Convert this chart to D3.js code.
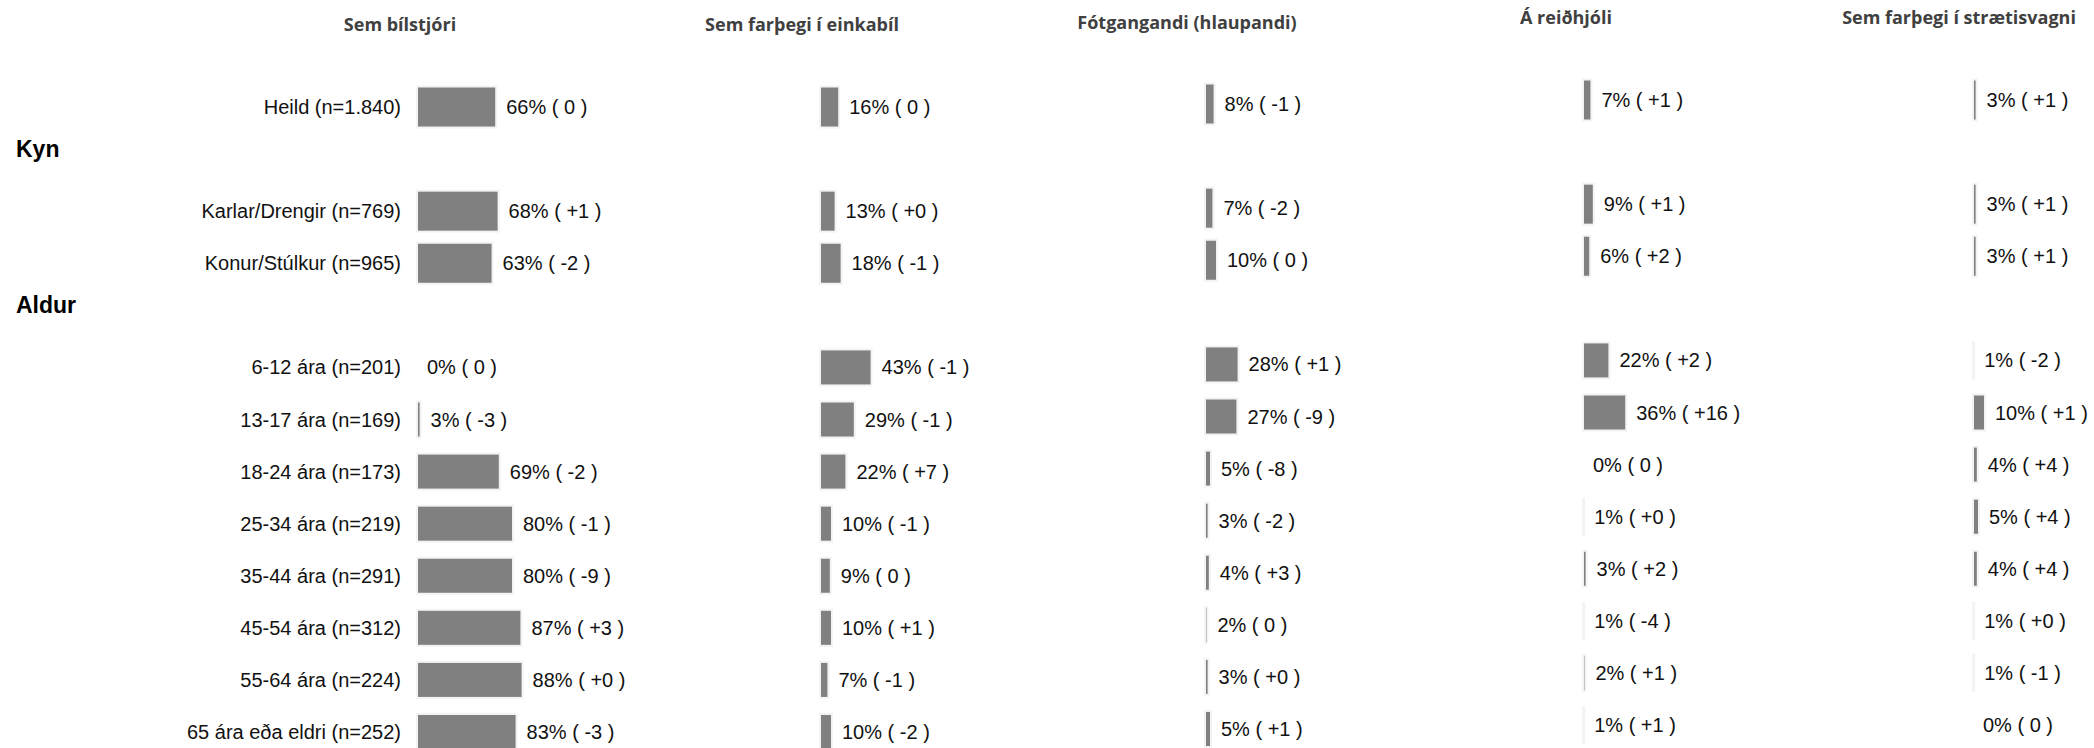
<!DOCTYPE html>
<html>
<head>
<meta charset="utf-8">
<script src="https://cdn.jsdelivr.net/npm/d3@7"></script>
<style>
  body { margin: 0; background: #fff; }
  svg { display: block; }
</style>
</head>
<body>
<svg id="chart" width="2094" height="748"></svg>
<script>
// rows (categories)
const categories = [
  "Heild (n=1.840)",
  "Karlar/Drengir (n=769)",
  "Konur/Stúlkur (n=965)",
  "6-12 ára (n=201)",
  "13-17 ára (n=169)",
  "18-24 ára (n=173)",
  "25-34 ára (n=219)",
  "35-44 ára (n=291)",
  "45-54 ára (n=312)",
  "55-64 ára (n=224)",
  "65 ára eða eldri (n=252)"
];
const groupOf = ["Heild", "Kyn", "Kyn", "Aldur", "Aldur", "Aldur", "Aldur", "Aldur", "Aldur", "Aldur", "Aldur"];
const groupTitles = ["Kyn", "Aldur"];

// columns (modes of travel)
const modes = [
  "Sem bílstjóri",
  "Sem farþegi í einkabíl",
  "Fótgangandi (hlaupandi)",
  "Á reiðhjóli",
  "Sem farþegi í strætisvagni"
];

// share in %, and change from last survey
const bilstjori = [66, 68, 63, 0, 3, 69, 80, 80, 87, 88, 83];
const bilstjoriChange = ["0", "+1", "-2", "0", "-3", "-2", "-1", "-9", "+3", "+0", "-3"];
const einkabill = [16, 13, 18, 43, 29, 22, 10, 9, 10, 7, 10];
const einkabillChange = ["0", "+0", "-1", "-1", "-1", "+7", "-1", "0", "+1", "-1", "-2"];
const fotgangandi = [8, 7, 10, 28, 27, 5, 3, 4, 2, 3, 5];
const fotgangandiChange = ["-1", "-2", "0", "+1", "-9", "-8", "-2", "+3", "0", "+0", "+1"];
const reidhjol = [7, 9, 6, 22, 36, 0, 1, 3, 1, 2, 1];
const reidhjolChange = ["+1", "+1", "+2", "+2", "+16", "0", "+0", "+2", "-4", "+1", "+1"];
const straeto = [3, 3, 3, 1, 10, 4, 5, 4, 1, 1, 0];
const straetoChange = ["+1", "+1", "+1", "-2", "+1", "+4", "+4", "+4", "+0", "-1", "0"];

const seriesValues = [bilstjori, einkabill, fotgangandi, reidhjol, straeto];
const seriesChanges = [bilstjoriChange, einkabillChange, fotgangandiChange, reidhjolChange, straetoChange];

// layout
const colX = [417, 820, 1205, 1583, 1973];
const colDy = [0, 0, -3, -7, -7];
const headX = [400, 802, 1187, 1566, 1959];
const headY = [24, 24, 22, 17, 17];
const labelRight = 401;

const svg = d3.select("#chart");

// row slots: group titles take a slot of their own
const slots = [];
categories.forEach(function (c, i) {
  if (i > 0 && groupOf[i] != groupOf[i - 1]) slots.push("_" + groupOf[i]);
  slots.push(c);
});

const y = d3.scalePoint().domain(slots).range([107, 732]);
const x = d3.scaleLinear().domain([0, 100]).range([0, 120]);

const barH = function (i) {
  return groupOf[i] == "Aldur" ? 36 : 41;
};

// column headers
svg.append("g")
  .selectAll("text")
  .data(modes)
  .join("text")
  .attr("x", (d, i) => headX[i])
  .attr("y", (d, i) => headY[i])
  .attr("text-anchor", "middle")
  .attr("dominant-baseline", "central")
  .style("font-family", "'Open Sans', sans-serif")
  .style("font-weight", "700")
  .style("font-size", "18px")
  .style("fill", "#404040")
  .text(d => d);

// group titles
svg.append("g")
  .selectAll("text")
  .data(groupTitles)
  .join("text")
  .attr("x", 16)
  .attr("y", d => y("_" + d) - 10)
  .attr("dominant-baseline", "central")
  .style("font-family", "'Liberation Sans', Arial, sans-serif")
  .style("font-weight", "700")
  .style("font-size", "23px")
  .style("fill", "#000")
  .text(d => d);

// row labels
svg.append("g")
  .selectAll("text")
  .data(categories)
  .join("text")
  .attr("x", labelRight)
  .attr("y", d => y(d))
  .attr("text-anchor", "end")
  .attr("dominant-baseline", "central")
  .style("font-family", "'Liberation Sans', Arial, sans-serif")
  .style("font-size", "20px")
  .style("fill", "#111")
  .text(d => d);

// one group of bars for each mode
modes.forEach(function (m, j) {
  const rows = categories.map(function (c, i) {
    return { cat: c, i: i, v: seriesValues[j][i], ch: seriesChanges[j][i] };
  });

  const g = svg.append("g").attr("transform", "translate(" + colX[j] + "," + colDy[j] + ")");

  g.selectAll("rect")
    .data(rows)
    .join("rect")
    .attr("x", x(0))
    .attr("y", d => y(d.cat) - barH(d.i) / 2)
    .attr("width", d => x(d.v))
    .attr("height", d => barH(d.i))
    .attr("fill", "#808080")
    .attr("stroke", "#f3f3f3")
    .attr("stroke-width", 2);

  g.selectAll("text")
    .data(rows)
    .join("text")
    .attr("x", d => x(d.v) + 10)
    .attr("y", d => y(d.cat))
    .attr("dominant-baseline", "central")
    .style("font-family", "'Liberation Sans', Arial, sans-serif")
    .style("font-size", "20px")
    .style("fill", "#111")
    .text(d => d.v + "% ( " + d.ch + " )");
});
</script>
</body>
</html>
